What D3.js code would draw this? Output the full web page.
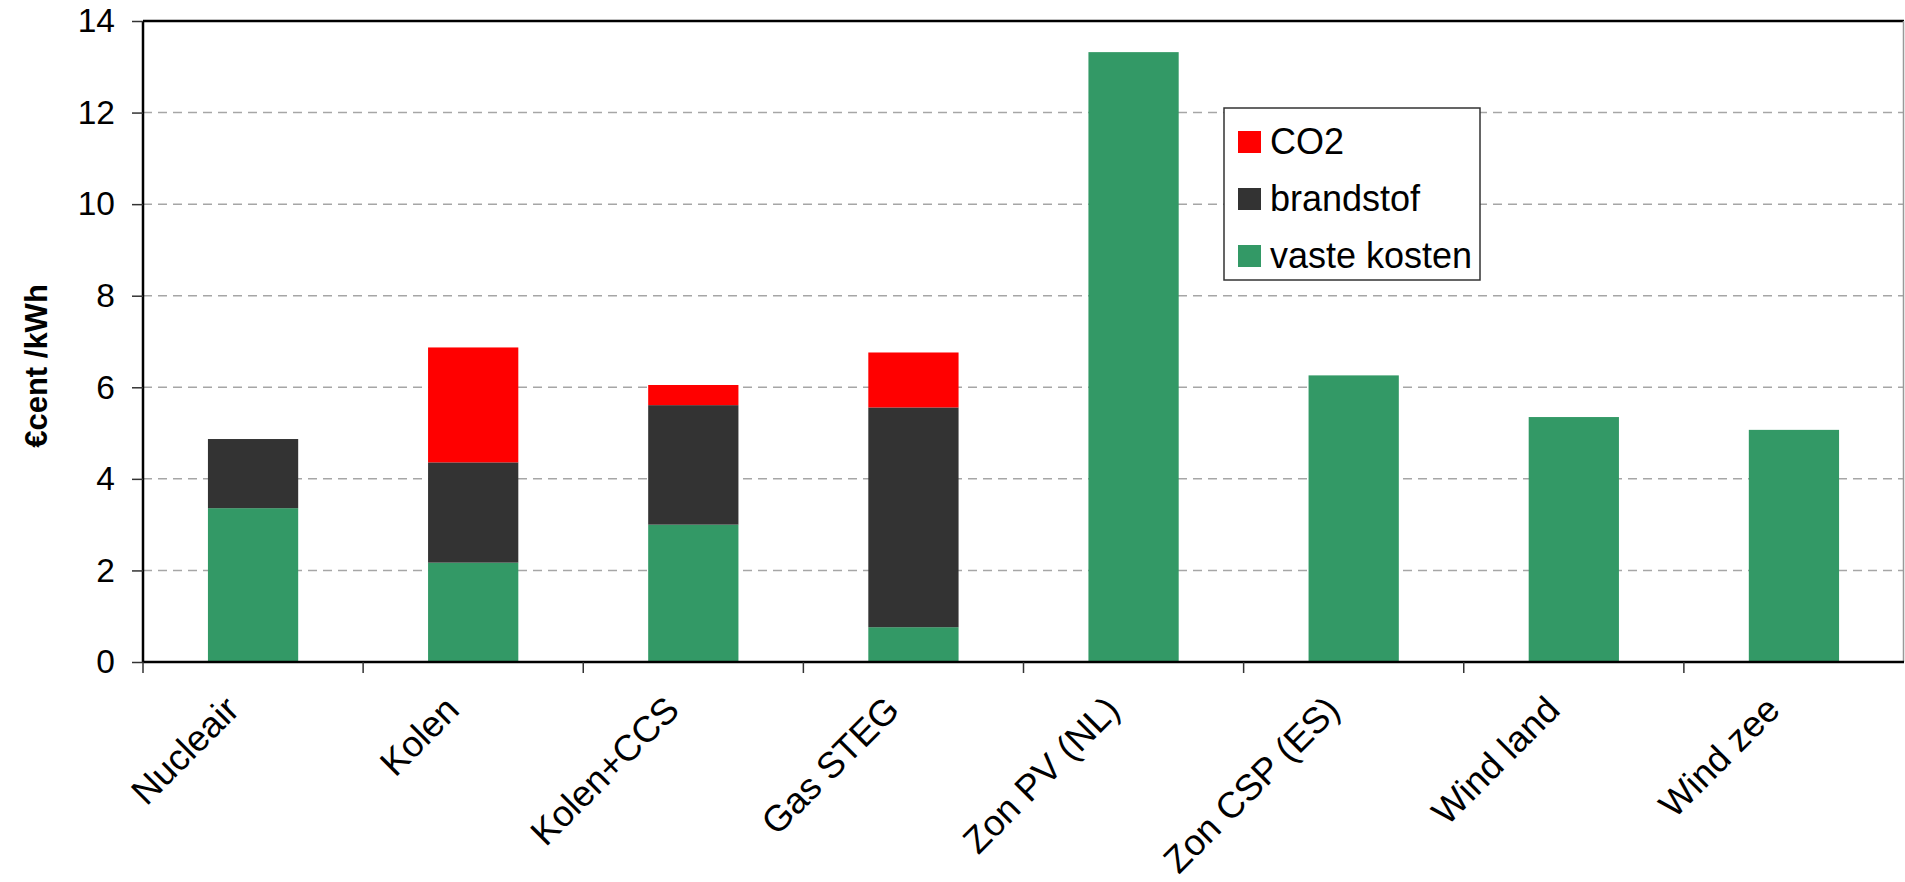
<!DOCTYPE html>
<html>
<head>
<meta charset="utf-8">
<script src="https://cdn.jsdelivr.net/npm/d3@7"></script>
<style>
    body { margin: 0; background: #fff; }
    svg { display: block; font-family: "Liberation Sans", Arial, sans-serif; }
</style>
</head>
<body>
<div id="chart"></div>
<script>

// categories and values (€cent/kWh)
let categories = ["Nucleair", "Kolen", "Kolen+CCS", "Gas STEG", "Zon PV (NL)", "Zon CSP (ES)", "Wind land", "Wind zee"];
let vasteKosten = [3.36, 2.17, 3.00, 0.76, 13.32, 6.26, 5.35, 5.07];
let brandstof   = [1.51, 2.19, 2.61, 4.80, 0, 0, 0, 0];
let co2         = [0, 2.51, 0.44, 1.20, 0, 0, 0, 0];

let seriesNames = ["vaste kosten", "brandstof", "CO2"];
let seriesColors = ["#339966", "#333333", "#ff0000"];
let yTicks = [0, 2, 4, 6, 8, 10, 12, 14];

let width = 1905, height = 882;
let margin = {top: 21, right: 1, bottom: 220, left: 143};
let innerW = width - margin.left - margin.right;
let innerH = height - margin.top - margin.bottom;

let svg = d3.select("#chart").append("svg")
    .attr("width", width)
    .attr("height", height);

let g = svg.append("g")
    .attr("transform", `translate(${margin.left},${margin.top})`);

// scales
let x = d3.scaleBand()
    .domain(categories)
    .range([0, innerW])
    .paddingInner(0.59)
    .paddingOuter(0.295);

let y = d3.scaleLinear()
    .domain([0, 14])
    .range([innerH, 0]);

// stacked data
let table = categories.map((c, i) => ({
    cat: c,
    "vaste kosten": vasteKosten[i],
    "brandstof": brandstof[i],
    "CO2": co2[i]
}));
let stacked = d3.stack().keys(seriesNames)(table);

// gridlines
g.append("g")
    .selectAll("line")
    .data(yTicks.filter(d => d > 0 && d < 14))
    .join("line")
    .attr("x1", 0)
    .attr("x2", innerW)
    .attr("y1", d => y(d))
    .attr("y2", d => y(d))
    .attr("stroke", "#a6a6a6")
    .attr("stroke-width", 1.5)
    .attr("stroke-dasharray", "9,6");

// bars
g.append("g")
    .selectAll("g")
    .data(stacked)
    .join("g")
    .attr("fill", (d, i) => seriesColors[i])
    .selectAll("rect")
    .data(d => d.filter(s => s[1] - s[0] > 0))
    .join("rect")
    .attr("x", d => x(d.data.cat))
    .attr("width", x.bandwidth())
    .attr("y", d => y(d[1]))
    .attr("height", d => y(d[0]) - y(d[1]));

// frame: top black, right grey
g.append("line")
    .attr("x1", 0).attr("x2", innerW)
    .attr("y1", 0).attr("y2", 0)
    .attr("stroke", "#000").attr("stroke-width", 2.5);
g.append("line")
    .attr("x1", innerW - 0.5).attr("x2", innerW - 0.5)
    .attr("y1", 0).attr("y2", innerH)
    .attr("stroke", "#999").attr("stroke-width", 1.5);

// y axis
let yAxis = d3.axisLeft(y)
    .tickValues(yTicks)
    .tickSize(11)
    .tickPadding(17)
    .tickFormat(d3.format("d"));

let yg = g.append("g").call(yAxis);
yg.select(".domain").attr("stroke", "#000").attr("stroke-width", 2.5).attr("d", `M0,0V${innerH}`);
yg.selectAll(".tick line").attr("stroke", "#333").attr("stroke-width", 1.5);
yg.selectAll(".tick text")
    .attr("font-size", 33.5)
    .attr("fill", "#000")
    .attr("font-family", "Liberation Sans, Arial, sans-serif");

// x axis: baseline + ticks at band boundaries
g.append("line")
    .attr("x1", 0).attr("x2", innerW)
    .attr("y1", innerH).attr("y2", innerH)
    .attr("stroke", "#000").attr("stroke-width", 2.5);

g.append("g")
    .selectAll("line")
    .data(d3.range(categories.length))
    .join("line")
    .attr("x1", i => i * x.step())
    .attr("x2", i => i * x.step())
    .attr("y1", innerH)
    .attr("y2", innerH + 11)
    .attr("stroke", "#333")
    .attr("stroke-width", 1.5);

g.append("g")
    .selectAll("text")
    .data(categories)
    .join("text")
    .attr("transform", d => `translate(${x(d) + x.bandwidth() / 2 - 12},${innerH + 50}) rotate(-45)`)
    .attr("text-anchor", "end")
    .attr("font-size", 36.5)
    .attr("fill", "#000")
    .text(d => d);

// y axis title
svg.append("text")
    .attr("transform", "translate(47,366) rotate(-90)")
    .attr("text-anchor", "middle")
    .attr("font-size", 31)
    .attr("font-weight", "bold")
    .attr("fill", "#000")
    .text("€cent /kWh");

// legend
let legend = svg.append("g")
    .attr("transform", "translate(1224,108)");

legend.append("rect")
    .attr("width", 256)
    .attr("height", 172)
    .attr("fill", "#fff")
    .attr("stroke", "#333")
    .attr("stroke-width", 1.5);

let legendOrder = [2, 1, 0];
let items = legend.selectAll(".item")
    .data(legendOrder)
    .join("g")
    .attr("class", "item")
    .attr("transform", (d, i) => `translate(14,${34 + i * 57})`);

items.append("rect")
    .attr("y", -11)
    .attr("width", 23)
    .attr("height", 22)
    .attr("fill", d => seriesColors[d]);

items.append("text")
    .attr("x", 32)
    .attr("y", 12)
    .attr("font-size", 36)
    .attr("fill", "#000")
    .text(d => seriesNames[d]);

</script>
</body>
</html>
